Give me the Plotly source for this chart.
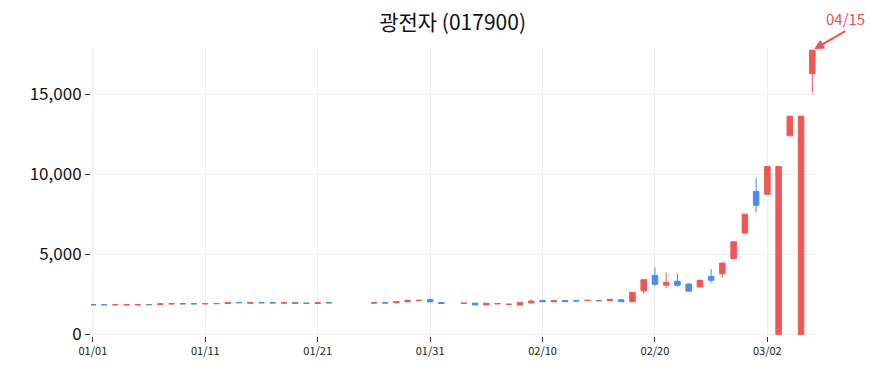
import plotly.graph_objects as go
import pandas as pd

dates = (
    [f"2023-01-{d:02d}" for d in range(1, 23)]
    + [f"2023-01-{d:02d}" for d in range(26, 32)]
    + ["2023-02-01"]
    + [f"2023-02-{d:02d}" for d in range(3, 29)]
    + [f"2023-03-{d:02d}" for d in range(1, 7)]
)

open_ = [1860, 1860, 1850, 1850, 1850, 1865, 1860, 1905, 1920, 1920, 1910, 1915, 1930, 1990, 1940,
         1985, 1980, 1960, 1980, 1950, 1935, 1980,
         1960, 1975, 1975, 2040, 2110, 2180, 1990,
         1940, 1950, 1840, 1910, 1870, 1830, 1960, 2120, 2040, 2120, 2110, 2110, 2120, 2110, 2160,
         2040, 2720, 3680, 3070, 3320, 3150, 2960, 3620, 3790, 4730, 6330,
         8930, 8750, 0, 12400, 0, 16290]
high = [1865, 1865, 1860, 1860, 1860, 1865, 1915, 1925, 1925, 1925, 1925, 1940, 1985, 1995, 1985,
        1990, 1985, 1975, 1985, 1960, 1975, 1985,
        1975, 1980, 2045, 2180, 2150, 2190, 2000,
        1970, 1955, 1950, 1960, 1900, 2000, 2190, 2130, 2120, 2125, 2160, 2150, 2130, 2200, 2170,
        2640, 3420, 4200, 3860, 3800, 3180, 3420, 4080, 4500, 5820, 7510,
        9760, 10490, 10490, 13630, 13630, 17750]
low = [1845, 1830, 1845, 1845, 1850, 1850, 1855, 1890, 1895, 1900, 1905, 1910, 1925, 1970, 1935,
       1970, 1950, 1955, 1935, 1925, 1930, 1965,
       1955, 1960, 1970, 2020, 2090, 2030, 1920,
       1930, 1835, 1830, 1880, 1860, 1825, 1955, 2030, 2010, 2045, 2070, 2100, 2080, 2100, 2020,
       2030, 2560, 3020, 2870, 3000, 2690, 2940, 3230, 3590, 4700, 6250,
       7600, 8740, 0, 12380, 0, 15100]
close = [1850, 1850, 1855, 1855, 1860, 1855, 1910, 1915, 1910, 1910, 1920, 1930, 1980, 1980, 1980,
         1975, 1970, 1970, 1940, 1940, 1970, 1970,
         1970, 1965, 2040, 2120, 2130, 2030, 1930,
         1955, 1840, 1945, 1925, 1885, 1990, 2080, 2040, 2110, 2050, 2090, 2130, 2100, 2190, 2040,
         2630, 3420, 3130, 3250, 3070, 2700, 3370, 3380, 4450, 5780, 7510,
         8070, 10490, 10490, 13630, 13630, 17750]

title_text = "광전자 (017900)"
annot_text = "04/15"
x_ticks = ["2023-01-01", "2023-01-11", "2023-01-21", "2023-01-31", "2023-02-10", "2023-02-20", "2023-03-02"]
y_ticks = [0, 5000, 10000, 15000]

RED = "#ef4f4f"
BLUE = "#4286f4"

fig = go.Figure(go.Candlestick(
    x=pd.to_datetime(dates), open=open_, high=high, low=low, close=close,
    increasing=dict(line=dict(color=RED, width=1), fillcolor=RED),
    decreasing=dict(line=dict(color=BLUE, width=1), fillcolor=BLUE),
    opacity=0.95, showlegend=False,
))

fig.add_annotation(
    x=pd.Timestamp(dates[-1]), y=high[-1], text=annot_text,
    showarrow=True, arrowhead=2, arrowsize=1, arrowwidth=2, arrowcolor=RED,
    ax=33, ay=-19, font=dict(color=RED, size=15, family="Noto Sans CJK KR"),
    xanchor="center", yanchor="bottom", standoff=2,
)

fig.update_layout(
    width=884, height=373,
    margin=dict(l=91, r=67, t=47, b=37),
    paper_bgcolor="white", plot_bgcolor="white",
    title=dict(text=title_text, x=0.512, xanchor="center", y=0.94, yanchor="middle",
               font=dict(size=21, family="Noto Sans CJK KR", color="#111")),
    font=dict(family="Noto Sans CJK KR", color="#222"),
    xaxis=dict(
        type="date", rangeslider=dict(visible=False),
        range=["2022-12-31 20:00", "2023-03-06 10:00"],
        tickvals=pd.to_datetime(x_ticks), tickformat="%m/%d",
        ticks="outside", ticklen=5, tickcolor="#333",
        tickfont=dict(size=11, color="#222"),
        showgrid=True, gridcolor="#eeeeee", zeroline=False, showline=False,
    ),
    yaxis=dict(
        range=[-100, 17950], tickvals=y_ticks, tickformat=",",
        ticks="outside", ticklen=5, tickcolor="#333",
        tickfont=dict(size=17, color="#111"),
        showgrid=True, gridcolor="#eeeeee", zeroline=False, showline=False,
    ),
)

fig.write_html("out.html")
